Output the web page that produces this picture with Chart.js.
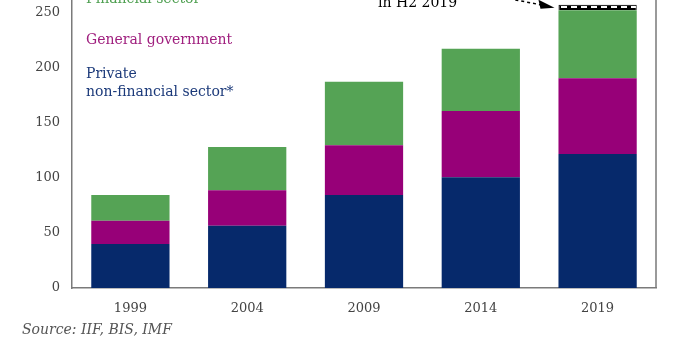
<!DOCTYPE html>
<html>
<head>
<meta charset="utf-8">
<style>
  html, body { margin: 0; padding: 0; background: #fff; }
  #wrap { position: relative; width: 700px; height: 350px; overflow: hidden; }
  #debtChart { position: absolute; left: 0; top: -50px; }
</style>
</head>
<body>
<div id="wrap">
  <canvas id="debtChart" width="700" height="400"></canvas>
</div>

<script src="https://cdn.jsdelivr.net/npm/chart.js"></script>
<script>
  // chart data
  const years = ["1999", "2004", "2009", "2014", "2019"];
  const privateNonFin = [40, 56.6, 84.5, 100.6, 121.8];
  const generalGov = [21.2, 32.2, 45.2, 60.3, 68.8];
  const financialSector = [23.3, 39.4, 57.8, 56.6, 61.9];
  const h2Rise = [null, null, null, null, 5];
  const yTicks = [0, 50, 100, 150, 200, 250, 300];

  const navy = "#06296b";
  const magenta = "#970078";
  const green = "#55a355";
  const serif = "'DejaVu Serif', 'Liberation Serif', serif";

  // black strip with white dashes for the H2 2019 segment
  function hatchPattern(ctx) {
    const c = document.createElement("canvas");
    c.width = 10;
    c.height = 6;
    const p = c.getContext("2d");
    p.fillStyle = "#000";
    p.fillRect(0, 0, 10, 6);
    p.fillStyle = "#fff";
    p.fillRect(1, 2, 6, 2);
    return ctx.createPattern(c, "repeat");
  }

  const ctx = document.getElementById("debtChart").getContext("2d");

  // frame on the right / top, legend text, annotation, source
  const extras = {
    id: "extras",
    afterDraw(chart) {
      const c = chart.ctx;
      const a = chart.chartArea;
      c.save();
      c.strokeStyle = "#7a7a7a";
      c.lineWidth = 1.5;
      c.beginPath();
      c.moveTo(a.left, a.top);
      c.lineTo(a.right, a.top);
      c.lineTo(a.right, a.bottom);
      c.stroke();

      c.textBaseline = "middle";
      c.font = "14px " + serif;
      c.fillStyle = "#4e9f50";
      c.fillText("Financial sector", 86, 49);
      c.fillStyle = "#a0207f";
      c.fillText("General government", 86, 90);
      c.fillStyle = "#1c3a7a";
      c.fillText("Private", 86, 124);
      c.fillText("non-financial sector*", 86, 142);

      // annotation arrow pointing at the hatched segment
      const bar = chart.getDatasetMeta(3).data[4];
      const tipX = bar.x - bar.width / 2 - 4;
      const tipY = bar.y + 3;
      c.fillStyle = "#000";
      c.fillText("in H2 2019", 378, 53);
      c.strokeStyle = "#000";
      c.lineWidth = 1.5;
      c.setLineDash([3, 3]);
      c.beginPath();
      c.moveTo(tipX - 45, tipY - 9);
      c.lineTo(tipX - 14, tipY - 3);
      c.stroke();
      c.setLineDash([]);
      c.beginPath();
      c.moveTo(tipX, tipY);
      c.lineTo(tipX - 16, tipY - 8);
      c.lineTo(tipX - 14, tipY + 1);
      c.closePath();
      c.fill();

      c.font = "italic 14px " + serif;
      c.fillStyle = "#555";
      c.fillText("Source: IIF, BIS, IMF", 22, 380);
      c.restore();
    },
  };

  const debtChart = new Chart(ctx, {
    type: "bar",
    data: {
      labels: years,
      datasets: [
        { label: "Private non-financial sector*", data: privateNonFin, backgroundColor: navy },
        { label: "General government", data: generalGov, backgroundColor: magenta },
        { label: "Financial sector", data: financialSector, backgroundColor: green },
        {
          label: "H2 2019",
          data: h2Rise,
          backgroundColor: hatchPattern(ctx),
          borderColor: "#000",
          borderWidth: 1,
        },
      ],
    },
    options: {
      responsive: false,
      maintainAspectRatio: false,
      animation: false,
      datasets: {
        bar: { categoryPercentage: 1, barPercentage: 0.67 },
      },
      layout: { padding: { top: 8, right: 44, left: 0, bottom: 0 } },
      plugins: {
        legend: { display: false },
        tooltip: { enabled: false },
      },
      scales: {
        x: {
          stacked: true,
          grid: { display: false, drawTicks: false },
          border: { color: "#7a7a7a", width: 1.5 },
          ticks: { padding: 13, color: "#444", font: { family: serif, size: 13 } },
          afterFit: (s) => {
            s.height = 62;
            s.paddingLeft = 0;
            s.paddingRight = 0;
          },
        },
        y: {
          stacked: true,
          min: 0,
          max: 300,
          grid: { display: false, drawTicks: false },
          border: { color: "#7a7a7a", width: 1.5 },
          afterBuildTicks: (s) => { s.ticks = yTicks.map((v) => ({ value: v })); },
          ticks: { padding: 12, color: "#444", font: { family: serif, size: 13 } },
          afterFit: (s) => {
            s.width = 72;
            s.paddingTop = 0;
            s.paddingBottom = 0;
          },
        },
      },
    },
    plugins: [extras],
  });
</script>
</body>
</html>
